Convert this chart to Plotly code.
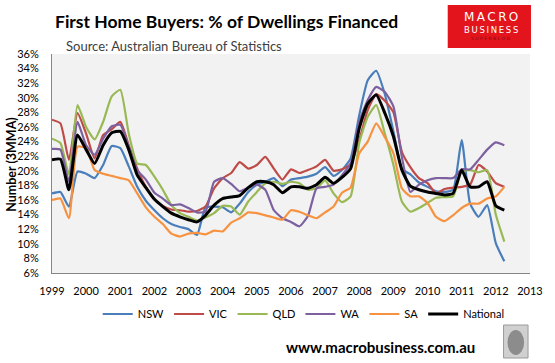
import pandas as pd
import plotly.graph_objects as go

# Quarterly observation dates (Jan 1999 .. Apr 2012)
dates = pd.date_range("1999-01-01", periods=54, freq="3MS")

nsw = [16.9, 17.1, 15.1, 19.9, 19.6, 19.0, 20.8, 23.4, 23.1, 20.6, 17.8, 15.9,
       14.6, 13.5, 12.7, 12.3, 12.0, 11.2, 15.0, 15.1, 15.0, 14.3, 15.5,
       17.1, 18.1, 18.5, 19.0, 17.9, 18.8, 19.0, 19.2, 19.6, 20.5, 19.3,
       20.1, 21.7, 27.6, 32.4, 33.7, 30.5, 25.4, 20.3, 19.5, 18.4, 17.8, 17.2,
       17.1, 17.4, 24.2, 15.5, 13.7, 15.3, 10.1, 7.6]
vic = [27.0, 26.5, 21.5, 27.9, 25.1, 21.7, 24.9, 25.7, 26.7, 23.5, 20.3, 17.8,
       16.1, 15.2, 14.7, 14.6, 14.4, 14.5, 15.1, 17.6, 19.0, 19.7, 21.2,
       20.3, 20.8, 21.9, 20.3, 18.8, 20.2, 19.7, 20.1, 20.6, 21.5, 20.0,
       20.2, 20.9, 24.2, 28.3, 30.5, 29.6, 28.0, 22.6, 20.5, 19.0, 18.3, 16.9,
       17.5, 17.7, 17.8, 18.1, 20.8, 19.9, 18.3, 17.8]
qld = [24.4, 23.8, 19.5, 29.0, 26.0, 24.3, 26.7, 30.2, 31.1, 25.1, 21.0, 20.8,
       19.2, 17.4, 15.3, 14.2, 13.7, 13.2, 13.6, 14.2, 15.2, 15.1, 14.0,
       15.8, 17.1, 18.3, 18.5, 18.2, 18.5, 18.3, 17.4, 17.6, 18.7, 16.9,
       15.7, 16.5, 23.8, 27.4, 29.0, 25.1, 20.8, 15.8, 14.4, 14.9, 15.6, 16.3,
       16.4, 16.5, 19.9, 20.1, 19.8, 20.1, 14.0, 10.3]
wa = [23.0, 22.9, 18.5, 26.7, 23.5, 22.2, 24.4, 26.1, 26.3, 23.3, 20.1, 18.8,
      17.0, 16.2, 15.3, 15.4, 14.9, 14.3, 14.4, 18.5, 19.0, 18.2, 17.2,
      17.7, 18.1, 17.4, 14.6, 13.5, 13.0, 12.4, 13.8, 17.6, 17.8, 18.1,
      19.4, 21.0, 26.7, 29.7, 31.5, 30.8, 28.8, 21.9, 17.1, 18.1, 18.7, 19.0,
      19.0, 19.0, 20.2, 20.2, 21.5, 22.9, 23.9, 23.5]
sa = [16.0, 16.2, 13.5, 23.3, 23.1, 20.1, 19.6, 19.3, 19.0, 18.7, 16.9, 15.0,
      13.7, 12.7, 11.4, 11.0, 11.4, 11.5, 11.3, 11.8, 11.7, 12.9, 13.5,
      14.3, 14.2, 13.9, 13.6, 13.3, 14.6, 14.4, 13.9, 13.5, 14.3, 15.1,
      17.0, 17.7, 22.4, 24.0, 26.5, 24.6, 22.4, 17.6, 16.5, 16.5, 15.6, 13.7,
      13.1, 13.9, 14.9, 15.5, 15.5, 16.2, 16.5, 17.8]
national = [21.5, 21.6, 17.4, 24.9, 22.9, 21.0, 23.5, 25.2, 25.4, 22.9, 19.4, 17.7,
            16.1, 15.1, 14.2, 13.7, 13.3, 13.0, 13.9, 15.3, 16.2, 16.4, 16.6,
            17.7, 18.5, 18.5, 18.1, 17.0, 17.8, 17.8, 17.6, 18.1, 19.1, 18.3,
            19.1, 20.3, 25.8, 29.2, 30.4, 27.9, 24.7, 20.1, 17.9, 17.4, 17.1, 16.9,
            16.7, 16.9, 20.1, 17.8, 17.8, 18.5, 15.2, 14.6]

series = [("NSW", nsw, "#4A7EBB", 2.2), ("VIC", vic, "#BE4B48", 2.2),
          ("QLD", qld, "#98B954", 2.2), ("WA", wa, "#7D60A0", 2.2),
          ("SA", sa, "#F69240", 2.2), ("National", national, "#000000", 3)]

W, H = 555, 363
L, R, T, B = 52, 15, 54, 90
PW, PH = W - L - R, H - T - B

def px(x):
    return (x - L) / PW

def py(y):
    return (H - B - y) / PH

fig = go.Figure()
for name, vals, col, w in series:
    fig.add_trace(go.Scatter(x=dates, y=vals, name=name, mode="lines",
                             line=dict(color=col, width=w, shape="spline", smoothing=0.5)))

font = "Lato, 'Open Sans', sans-serif"
fig.update_layout(
    width=W, height=H, margin=dict(l=L, r=R, t=T, b=B),
    paper_bgcolor="white", plot_bgcolor="#f2f2f2",
    font=dict(family=font, size=11, color="black"),
    title=dict(text="<b>First Home Buyers: % of Dwellings Financed</b>",
               x=55 / W, xanchor="left", y=1 - 22 / H, yanchor="middle",
               font=dict(size=17.5, color="black", family=font)),
    showlegend=True,
    legend=dict(orientation="h", x=px(309), xanchor="center", y=py(314), yanchor="middle",
                font=dict(size=11), bgcolor="rgba(0,0,0,0)", itemwidth=30, tracegroupgap=0),
    xaxis=dict(type="date", range=["1999-01-01", "2013-01-01"], dtick="M12",
               tick0="1999-01-01", tickformat="%Y", showgrid=False, zeroline=False,
               showline=True, linecolor="#868686", linewidth=1, ticks="",
               ticklabelstandoff=8, tickfont=dict(size=11)),
    yaxis=dict(range=[6, 36], dtick=2, ticksuffix="%", showgrid=False, zeroline=False,
               showline=True, linecolor="#868686", linewidth=1, ticks="",
               ticklabelstandoff=10, tickfont=dict(size=11)),
)

ts = "\u2009"
ann = [
    dict(text="Source: Australian Bureau of Statistics", x=px(64), y=py(46),
         xanchor="left", yanchor="middle", font=dict(size=13, color="#404040")),
    dict(text="<b>Number (3MMA)</b>", x=px(10), y=py(164), textangle=-90,
         xanchor="center", yanchor="middle", font=dict(size=12.5, color="black")),
    dict(text="<b>www.macrobusiness.com.au</b>", x=px(387), y=py(347),
         xanchor="center", yanchor="middle", font=dict(size=15, color="black")),
    dict(text=ts.join("MACRO"), x=px(500), y=py(17), xanchor="center", yanchor="middle",
         font=dict(size=12, color="white", family="DejaVu Sans")),
    dict(text=ts.join("BUSINESS"), x=px(500), y=py(30), xanchor="center", yanchor="middle",
         font=dict(size=8.5, color="white", family="DejaVu Sans")),
    dict(text="S U P E R B L O G", x=px(500), y=py(39), xanchor="center", yanchor="middle",
         font=dict(size=4.5, color="#8a0a10", family="DejaVu Sans")),
]
for a in ann:
    a.update(xref="paper", yref="paper", showarrow=False)
    fig.add_annotation(**a)

fig.add_shape(type="rect", xref="paper", yref="paper", x0=px(456), x1=px(541),
              y0=py(48), y1=py(5), fillcolor="#e3141c", line=dict(width=0), layer="below")
fig.add_shape(type="rect", xref="paper", yref="paper", x0=px(513), x1=px(538),
              y0=py(358), y1=py(325), fillcolor="#d0d0d0", line=dict(color="#9a9a9a", width=1))
fig.add_shape(type="circle", xref="paper", yref="paper", x0=px(517), x1=px(534),
              y0=py(355), y1=py(330), fillcolor="#8c8c8c", line=dict(width=0))

fig.write_html("out.html", config={"displayModeBar": False},
               post_script="document.body.style.margin='0';document.body.style.overflow='hidden';")
